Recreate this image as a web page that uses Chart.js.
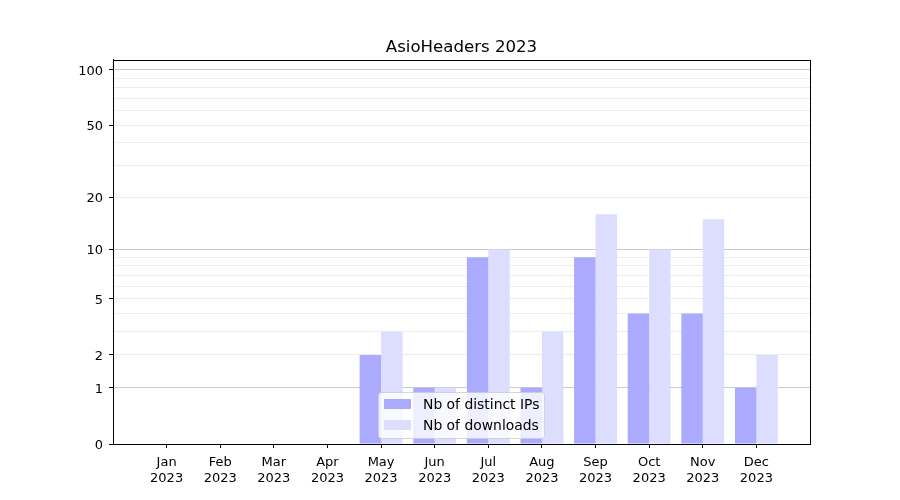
<!DOCTYPE html>
<html>
<head>
<meta charset="utf-8">
<script src="https://cdn.jsdelivr.net/npm/chart.js@4/dist/chart.umd.min.js"></script>
<style>
  body { margin: 0; background: #fff; }
  canvas { display: block; }
</style>
</head>
<body>
<canvas id="chart" width="900" height="500"></canvas>
<script>
const months = ['Jan', 'Feb', 'Mar', 'Apr', 'May', 'Jun', 'Jul', 'Aug', 'Sep', 'Oct', 'Nov', 'Dec'];
const year = '2023';
const distinctIPs = [0, 0, 0, 0, 2, 1, 9, 1, 9, 4, 4, 1];
const downloads = [0, 0, 0, 0, 3, 1, 10, 3, 16, 10, 15, 2];
const yTickLabels = [0, 1, 2, 5, 10, 20, 50, 100];
const yMinorTicks = [3, 4, 6, 7, 8, 9, 30, 40, 60, 70, 80, 90];
const yMajorGrid = [1, 10, 100];
const yTop = 113;

// the y axis is log10(1 + v), like matplotlib's function scale
const fwd = v => Math.log10(1 + v);
const inv = t => Math.round(Math.pow(10, t) - 1);

const font = { family: 'DejaVu Sans', size: 13 };

// matplotlib style frame around the axes
const framePlugin = {
  id: 'frame',
  afterDraw(chart) {
    const { ctx, chartArea: a } = chart;
    ctx.save();
    ctx.strokeStyle = '#000';
    ctx.lineWidth = 1;
    ctx.strokeRect(Math.round(a.left) + 0.5, Math.round(a.top) + 0.5,
      Math.round(a.right - a.left), Math.round(a.bottom - a.top));
    ctx.restore();
  }
};

// legend drawn inside the plot, over the bars
const legendBox = {
  id: 'legendBox',
  afterDatasetsDraw(chart) {
    const { ctx } = chart;
    const x = 378, y = 392, w = 166, h = 46;
    ctx.save();
    ctx.beginPath();
    ctx.roundRect(x + 0.5, y + 0.5, w, h, 3);
    ctx.fillStyle = 'rgba(255,255,255,0.8)';
    ctx.fill();
    ctx.strokeStyle = 'rgba(204,204,204,0.8)';
    ctx.lineWidth = 1;
    ctx.stroke();
    ctx.font = '13.9px "DejaVu Sans"';
    ctx.textBaseline = 'middle';
    chart.data.datasets.forEach((ds, i) => {
      const cy = y + 12 + i * 21;
      ctx.fillStyle = ds.backgroundColor;
      ctx.fillRect(x + 6, cy - 5, 27, 10);
      ctx.fillStyle = '#000';
      ctx.fillText(ds.label, x + 45, cy + 1);
    });
    ctx.restore();
  }
};

new Chart(document.getElementById('chart'), {
  type: 'bar',
  data: {
    datasets: [
      {
        label: 'Nb of distinct IPs',
        data: distinctIPs.map((v, i) => ({ x: i, y: fwd(v) })),
        backgroundColor: '#aaaaff',
        barPercentage: 1,
        categoryPercentage: 0.8,
        borderWidth: 0,
        inflateAmount: 0
      },
      {
        label: 'Nb of downloads',
        data: downloads.map((v, i) => ({ x: i, y: fwd(v) })),
        backgroundColor: '#ddddff',
        barPercentage: 1,
        categoryPercentage: 0.8,
        borderWidth: 0,
        inflateAmount: 0
      }
    ]
  },
  options: {
    responsive: false,
    animation: false,
    layout: { padding: { left: 0, right: 90, top: 0, bottom: 0 } },
    plugins: {
      legend: { display: false },
      tooltip: { enabled: false },
      title: {
        display: true,
        fullSize: false,
        text: 'AsioHeaders ' + year,
        color: '#000',
        font: { family: 'DejaVu Sans', size: 16.6, weight: 'normal', lineHeight: 1.2 },
        padding: { top: 38, bottom: 2 }
      }
    },
    scales: {
      x: {
        type: 'linear',
        offset: false,
        min: -1,
        max: 12,
        afterBuildTicks: s => { s.ticks = months.map((m, i) => ({ value: i })); },
        afterFit: s => { s.height = 56; },
        border: { color: '#000', width: 1 },
        grid: { drawOnChartArea: false, offset: false, tickLength: 4, tickColor: '#000' },
        ticks: {
          autoSkip: false,
          maxRotation: 0,
          color: '#000',
          font,
          padding: 7,
          callback: v => [months[v], year]
        }
      },
      y: {
        type: 'linear',
        min: 0,
        max: fwd(yTop),
        afterBuildTicks: s => {
          const vals = yTickLabels.concat(yMinorTicks).sort((a, b) => a - b);
          s.ticks = vals.map(v => ({ value: fwd(v) }));
        },
        afterFit: s => { s.width = 113; },
        border: { color: '#000', width: 1 },
        grid: {
          tickLength: 4,
          color: c => {
            const v = inv(c.tick.value);
            if (v === 0) return 'rgba(0,0,0,0)';
            return yMajorGrid.includes(v) ? '#cbcbcb' : '#ececec';
          },
          tickColor: c => yTickLabels.includes(inv(c.tick.value)) ? '#000' : 'rgba(0,0,0,0)'
        },
        ticks: {
          autoSkip: false,
          color: '#000',
          font,
          padding: 6,
          labelOffset: 1.5,
          callback: v => {
            const n = inv(v);
            return yTickLabels.includes(n) ? String(n) : '';
          }
        }
      }
    }
  },
  plugins: [framePlugin, legendBox]
});
</script>
</body>
</html>
